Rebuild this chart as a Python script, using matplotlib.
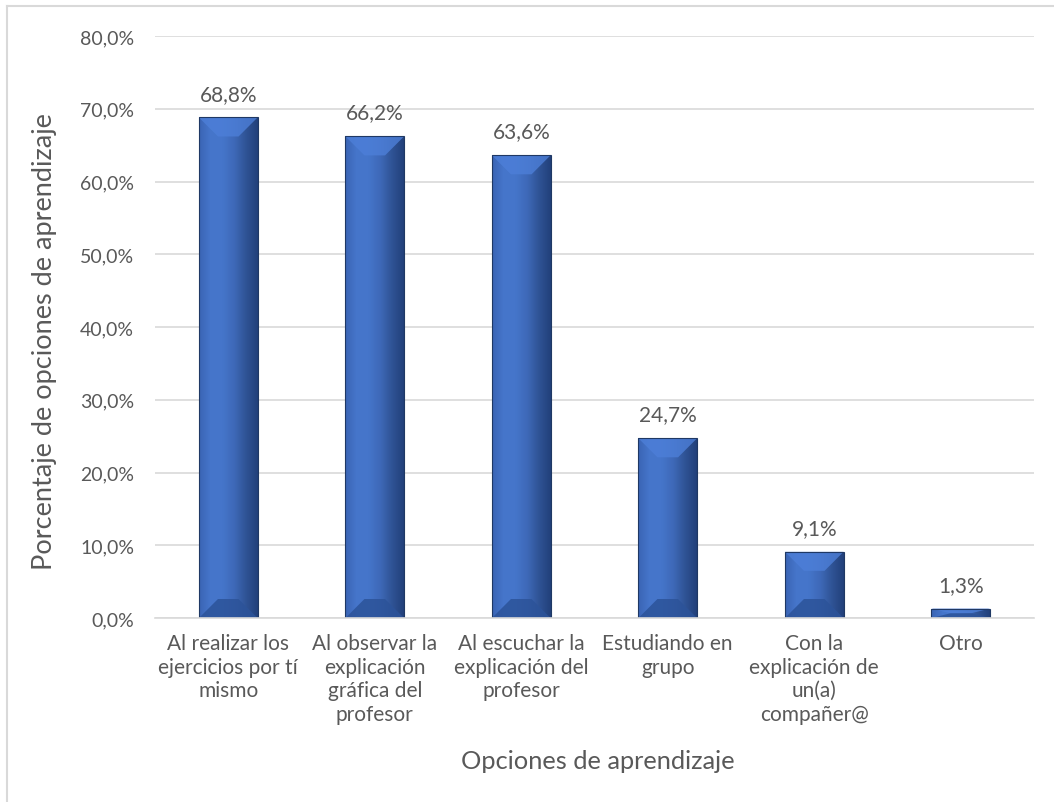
import matplotlib
matplotlib.use("Agg")
import matplotlib.pyplot as plt
import numpy as np
from matplotlib.patches import Polygon, Rectangle
from matplotlib.colors import LinearSegmentedColormap

categories = [
    "Al realizar los\nejercicios por tí\nmismo",
    "Al observar la\nexplicación\ngráfica del\nprofesor",
    "Al escuchar la\nexplicación del\nprofesor",
    "Estudiando en\ngrupo",
    "Con la\nexplicación de\nun(a)\ncompañer@",
    "Otro",
]
values = [68.8, 66.2, 63.6, 24.7, 9.1, 1.3]
yticks = [0, 10, 20, 30, 40, 50, 60, 70, 80]
xlabel = "Opciones de aprendizaje"
ylabel = "Porcentaje de opciones de aprendizaje"

plt.rcParams['font.family'] = ['Lato', 'DejaVu Sans']
TXT = "#595959"
GRID = "#d9d9d9"

W, H = 1054, 803
fig = plt.figure(figsize=(W / 100, H / 100), dpi=100)
ax = fig.add_axes([155 / W, 1 - 619 / H, (1034 - 155) / W, (619 - 37) / H])

x = np.arange(len(categories))
bars = ax.bar(x, values, width=0.40, color="#4472c4", zorder=2)
ax.set_xlim(-0.5, len(categories) - 0.5)
ax.set_ylim(0, 80)

# bevel styling
fig.canvas.draw()
px_x = ax.transData.transform((1, 0))[0] - ax.transData.transform((0, 0))[0]
px_y = ax.transData.transform((0, 1))[1] - ax.transData.transform((0, 0))[1]
depth = 19
cmap = LinearSegmentedColormap.from_list(
    "face", ["#3a64b4", "#4676cb", "#4575ca", "#3e69b8", "#2f5395", "#22407a"])
grad = np.linspace(0, 1, 256).reshape(1, -1)
for b in bars:
    x0, y0 = b.get_x(), b.get_y()
    w, h = b.get_width(), b.get_height()
    x1, y1 = x0 + w, y0 + h
    dx = min(depth / px_x, w / 2)
    dy = min(depth / px_y, h / 2)
    im = ax.imshow(grad, extent=(x0, x1, y0, y1), aspect='auto', cmap=cmap,
                   zorder=2.1, interpolation='bilinear')
    im.set_clip_path(b)
    ax.add_patch(Polygon([(x0, y1), (x1, y1), (x1 - dx, y1 - dy), (x0 + dx, y1 - dy)],
                         closed=True, facecolor="#4d7fd8", edgecolor='none', alpha=0.8, zorder=2.2))
    ax.add_patch(Polygon([(x0, y0), (x1, y0), (x1 - dx, y0 + dy), (x0 + dx, y0 + dy)],
                         closed=True, facecolor="#2c5399", edgecolor='none', alpha=0.85, zorder=2.2))
    ax.add_patch(Rectangle((x0, y0), w, h, facecolor='none', edgecolor="#1f3864",
                           linewidth=0.8, zorder=2.3))
    ax.text(x0 + w / 2, y1 + 1.9, f"{h:.1f}".replace(".", ",") + "%", ha='center', va='bottom',
            fontsize=15, color=TXT, zorder=3)
ax.set_xlim(-0.5, len(categories) - 0.5)
ax.set_ylim(0, 80)

ax.set_yticks(yticks)
ax.set_yticklabels([f"{v:.1f}".replace(".", ",") + "%" for v in yticks], fontsize=14, color=TXT)
ax.set_xticks(x)
ax.set_xticklabels(categories, fontsize=15, color=TXT, linespacing=1.22, va='top')
ax.tick_params(axis='both', length=0)
ax.tick_params(axis='y', pad=15)
ax.tick_params(axis='x', pad=11)
ax.grid(axis='y', color=GRID, linewidth=1.2, zorder=0)
for s in ['top', 'right', 'left']:
    ax.spines[s].set_visible(False)
ax.spines['bottom'].set_color(GRID)
ax.spines['bottom'].set_linewidth(1.2)

fig.text(598 / W, 1 - 762 / H, xlabel, ha='center', va='center', fontsize=18.3, color=TXT)
fig.text(45 / W, 1 - 342 / H, ylabel, ha='center', va='center', rotation=90, fontsize=19.5, color=TXT)

# chart border (top and left visible)
fig.add_artist(plt.Line2D([7 / W, 7 / W], [0, 1 - 7 / H], transform=fig.transFigure,
                          color=GRID, linewidth=1.5))
fig.add_artist(plt.Line2D([7 / W, 1], [1 - 7 / H, 1 - 7 / H], transform=fig.transFigure,
                          color=GRID, linewidth=1.5))

fig.savefig("out.png", dpi=100)
